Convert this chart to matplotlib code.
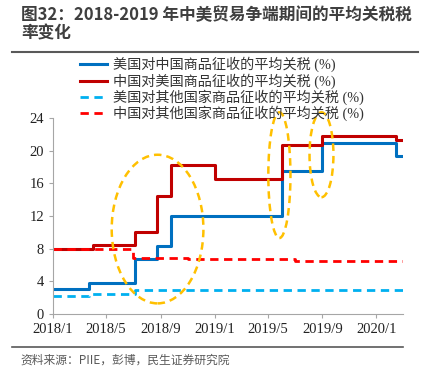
import numpy as np
import matplotlib
matplotlib.use("Agg")
import matplotlib.pyplot as plt
import matplotlib.dates as mdates
from matplotlib.patches import Ellipse
from matplotlib.lines import Line2D

plt.rcParams['font.family'] = ['Liberation Serif', 'Noto Sans CJK SC', 'DejaVu Sans']

# 美国对中国商品征收的平均关税
us_cn_dates = ['2018-01-01', '2018-03-23', '2018-07-06', '2018-08-23', '2018-09-24',
               '2019-06-01', '2019-09-01', '2020-02-14', '2020-03-01']
us_cn_vals = [3.1, 3.8, 6.7, 8.3, 12.0, 17.5, 21.0, 19.3, 19.3]

# 中国对美国商品征收的平均关税
cn_us_dates = ['2018-01-01', '2018-04-02', '2018-07-06', '2018-08-23', '2018-09-24',
               '2019-01-01', '2019-06-01', '2019-09-01', '2020-02-14', '2020-03-01']
cn_us_vals = [8.0, 8.4, 10.1, 14.4, 18.3, 16.5, 20.7, 21.8, 21.3, 21.3]

# 美国对其他国家商品征收的平均关税
us_w_dates = ['2018-01-01', '2018-03-23', '2018-07-06', '2019-11-01', '2020-03-01']
us_w_vals = [2.2, 2.5, 2.9, 3.0, 3.0]

# 中国对其他国家商品征收的平均关税
cn_w_dates = ['2018-01-01', '2018-07-01', '2018-11-01', '2019-07-01', '2020-03-01']
cn_w_vals = [8.0, 6.9, 6.7, 6.55, 6.55]

labels = ['美国对中国商品征收的平均关税 (%)', '中国对美国商品征收的平均关税 (%)',
          '美国对其他国家商品征收的平均关税 (%)', '中国对其他国家商品征收的平均关税 (%)']

tick_dates = ['2018-01-01', '2018-05-01', '2018-09-01', '2019-01-01',
              '2019-05-01', '2019-09-01', '2020-01-01']
tick_labels = ['2018/1', '2018/5', '2018/9', '2019/1', '2019/5', '2019/9', '2020/1']

def d(lst):
    return mdates.date2num(np.array(lst, dtype='datetime64[D]'))

fig = plt.figure(figsize=(4.34, 3.66), dpi=100)
ax = fig.add_axes([53/434, 1-314/366, 350/434, 196/366])

ax.plot(d(us_cn_dates), us_cn_vals, drawstyle='steps-post', color='#0070C0', lw=2.2, label=labels[0])
ax.plot(d(cn_us_dates), cn_us_vals, drawstyle='steps-post', color='#C00000', lw=2.2, label=labels[1])
ax.plot(d(us_w_dates), us_w_vals, drawstyle='steps-post', color='#00B0F0', lw=2.0,
        dashes=(3, 2), label=labels[2])
ax.plot(d(cn_w_dates), cn_w_vals, drawstyle='steps-post', color='#FF0000', lw=2.0,
        dashes=(3, 2), label=labels[3])

# 橙色虚线椭圆
ells = [('2018-08-25', 10.4, 207, 18.2),
        ('2019-05-27', 17.0, 50, 15.4),
        ('2019-08-30', 19.5, 54, 10.4)]
for c, yc, w, h in ells:
    e = Ellipse((d([c])[0], yc), w, h, fill=False, edgecolor='#FFC000', lw=1.8,
                linestyle=(0, (3, 2)), clip_on=False, zorder=5)
    ax.add_patch(e)

ax.set_xlim(d(['2018-01-01'])[0], d(['2020-03-01'])[0])
ax.set_ylim(0, 24)
ax.set_yticks(np.arange(0, 25, 4))
ax.set_xticks(d(tick_dates))
ax.set_xticklabels(tick_labels)
for s in ['top', 'right']:
    ax.spines[s].set_visible(False)
for s in ['left', 'bottom']:
    ax.spines[s].set_color('#A6A6A6')
ax.tick_params(axis='both', colors='#A6A6A6', labelcolor='#222222', labelsize=10.5, length=3)

fig.legend(loc='upper left', bbox_to_anchor=(80/434, 1-57/366), frameon=False,
           fontsize=10.2, handlelength=1.9, handletextpad=0.4, labelspacing=0.05,
           borderpad=0, borderaxespad=0, labelcolor='#333333')

fig.text(21/434, 1-6/366, '图32：2018-2019 年中美贸易争端期间的平均关税税\n率变化',
         family=['Noto Sans CJK SC'], fontweight='bold', fontsize=12.0, color='#3F3F3F',
         va='top', ha='left', linespacing=1.05)
fig.add_artist(Line2D([12/434, 418/434], [1-52/366]*2, transform=fig.transFigure,
                      color='#595959', lw=1.5))
fig.add_artist(Line2D([12/434, 403/434], [1-347/366]*2, transform=fig.transFigure,
                      color='#595959', lw=1.2))
fig.text(20/434, 1-360/366, '资料来源：PIIE，彭博，民生证券研究院', family=['Noto Sans CJK SC'],
         fontsize=8.5, color='#595959', va='center', ha='left')

fig.savefig('out.png', dpi=100)
